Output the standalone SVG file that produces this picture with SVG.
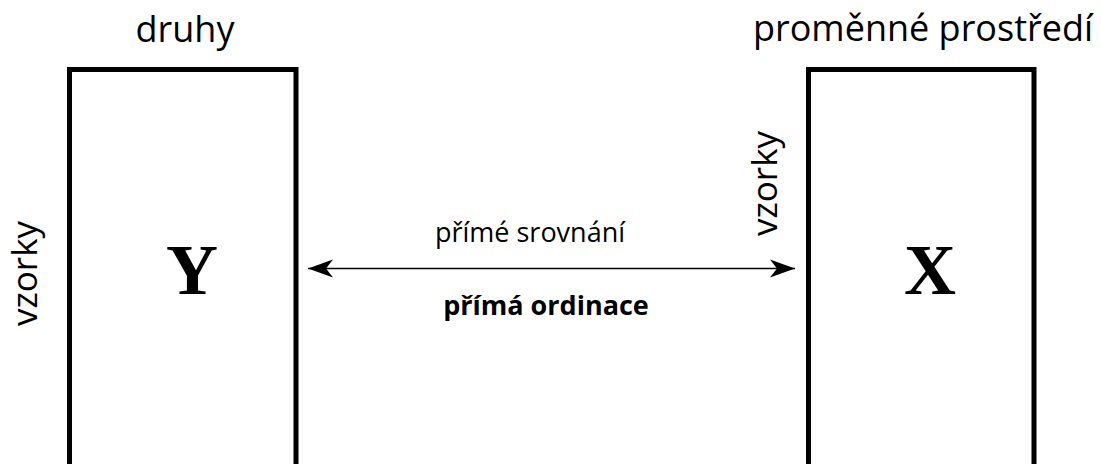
<svg xmlns="http://www.w3.org/2000/svg" width="1101" height="464" viewBox="0 0 1101 464">
  <style>
    .box { fill: #fff; stroke: #000; stroke-width: 5; }
    .lbl { font-family: "Open Sans", "Liberation Sans", sans-serif; font-size: 35px; fill: #000; text-anchor: middle; }
    .top { font-size: 36px; }
    .mat { font-family: "Liberation Serif", "Times New Roman", serif; font-weight: bold; font-size: 72px; fill: #000; text-anchor: middle; }
    .conn { stroke: #000; stroke-width: 1.5; fill: none; }
    .clbl { font-family: "Open Sans", "Liberation Sans", sans-serif; font-size: 27px; fill: #000; text-anchor: middle; }
  </style>
  <defs>
    <marker id="arr" markerUnits="userSpaceOnUse" markerWidth="28" markerHeight="22" viewBox="0 -11 28 22" refX="26" refY="0" orient="auto-start-reverse">
      <path d="M26,0 L1,-9 L8,0 L1,9 Z" fill="#000"/>
    </marker>
  </defs>
  <rect width="1101" height="464" fill="#fff"/>
  <g id="node-Y">
    <rect class="box" x="69.5" y="69.5" width="226.5" height="420"/>
    <text class="mat" x="192" y="294">Y</text>
    <text class="lbl top" x="185" y="42">druhy</text>
    <text class="lbl" transform="translate(37,273.5) rotate(-90)" x="0" y="0">vzorky</text>
  </g>
  <g id="node-X">
    <rect class="box" x="808.5" y="69.5" width="225.5" height="420"/>
    <text class="mat" x="930" y="294">X</text>
    <text class="lbl top" x="923" y="41">proměnné prostředí</text>
    <text class="lbl" transform="translate(777,183.5) rotate(-90)" x="0" y="0">vzorky</text>
  </g>
  <g id="connectors">
    <line class="conn" x1="308" y1="268.5" x2="795" y2="268.5" marker-start="url(#arr)" marker-end="url(#arr)"/>
    <text class="clbl" x="530" y="242">přímé srovnání</text>
    <text class="clbl" x="546" y="315" font-weight="bold" font-size="25.5">přímá ordinace</text>
  </g>
</svg>
